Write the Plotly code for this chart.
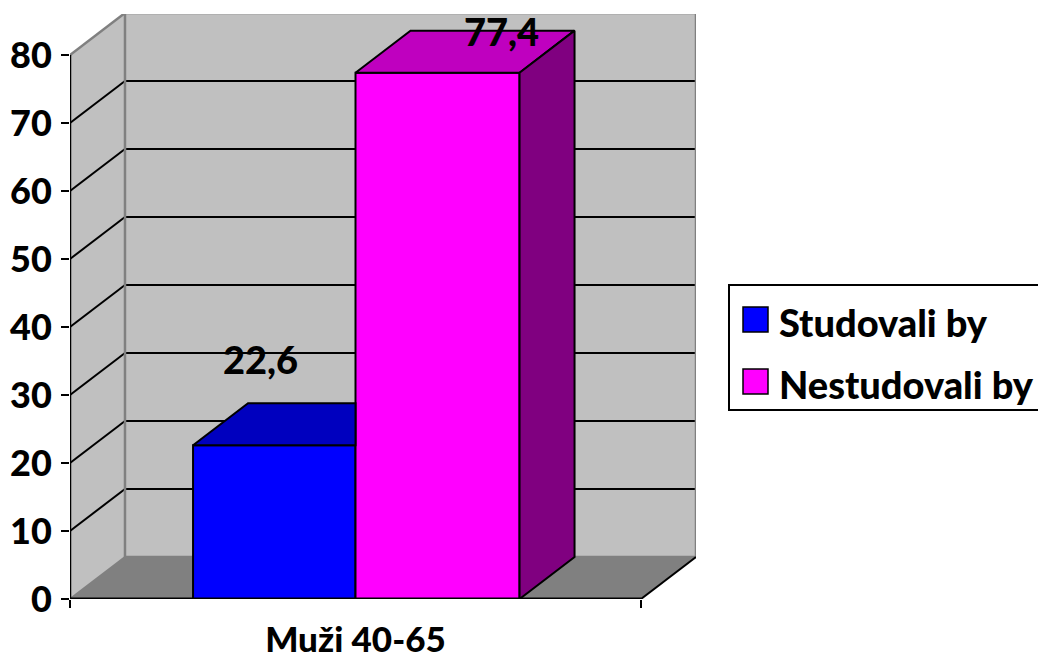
import plotly.graph_objects as go

# Survey shares, in percent
category = "Muži 40-65"
series_names = ["Studovali by", "Nestudovali by"]
series_values = [22.6, 77.4]
value_labels = ["22,6", "77,4"]
y_ticks = [0, 10, 20, 30, 40, 50, 60, 70, 80]

# Bar extents along the category axis, which runs from 0 to 1
bar_edges = [(0.2155, 0.5), (0.5, 0.7873)]
front_colors = ["#0000FF", "#FF00FF"]
top_colors = ["#0000BF", "#BF00BF"]
side_colors = ["#000080", "#800080"]
label_x = [0.334, 0.755]
label_lift = [12.65, 6.15]

# Oblique projection of the depth axis, in axis units
DX = 0.0963
DY = 6.18
X_MAX = 626 / 571
Y_MAX = 585 / 6.8
FONT = "Lato"
HEAVY = 900

# Plot area in page pixels
LEFT, RIGHT, TOP, BOTTOM = 70, 696, 14, 599


def paper_x(px):
    return (px - LEFT) / (RIGHT - LEFT)


def paper_y(py):
    return (BOTTOM - py) / (BOTTOM - TOP)


def poly_shape(xs, ys, fill, line="rgba(0,0,0,0)", width=0, layer="below"):
    path = "M" + " L".join(f"{x},{y}" for x, y in zip(xs, ys)) + " Z"
    return dict(type="path", path=path, xref="x", yref="y", fillcolor=fill,
                line=dict(color=line, width=width), layer=layer)


def seg(x0, y0, x1, y1, color, width, layer="below"):
    return dict(type="line", xref="x", yref="y", x0=x0, y0=y0, x1=x1, y1=y1,
                line=dict(color=color, width=width), layer=layer)


def paper_rect(x0, y0, x1, y1, fill, width):
    return dict(type="rect", xref="paper", yref="paper",
                x0=paper_x(x0), x1=paper_x(x1), y0=paper_y(y1), y1=paper_y(y0),
                fillcolor=fill, line=dict(color="#000000", width=width), layer="above")


shapes = [
    # side wall, back wall, floor
    poly_shape([0, DX, DX, 0], [0, DY, 80 + DY, 80], "#C0C0C0"),
    poly_shape([DX, 1 + DX, 1 + DX, DX], [DY, DY, 80 + DY, 80 + DY], "#C0C0C0"),
    poly_shape([0, 1, 1 + DX, DX], [0, 0, DY, DY], "#808080"),
]
for t in y_ticks[1:-1]:
    shapes.append(seg(0, t, DX, t + DY, "#000000", 2))
    shapes.append(seg(DX, t + DY, 1 + DX, t + DY, "#000000", 2))
shapes += [
    seg(DX, DY, DX, 80 + DY, "#808080", 2.5),
    seg(DX, 80 + DY, 1 + DX, 80 + DY, "#808080", 2.5),
    seg(1 + DX, DY, 1 + DX, 80 + DY, "#808080", 2.5),
    seg(DX, DY, 1 + DX, DY, "#808080", 2.5),
    seg(0, 80, DX, 80 + DY, "#808080", 2.5),
    seg(0, 0, DX, DY, "#808080", 2),
    seg(1, 0, 1 + DX, DY, "#000000", 2),
    seg(0, 0, 0, 80, "#000000", 2.5),
]

fig = go.Figure()

# Front faces
for name, value, (x0, x1), color in zip(series_names, series_values, bar_edges, front_colors):
    fig.add_trace(go.Bar(
        x=[(x0 + x1) / 2], y=[value], width=[x1 - x0], name=name,
        marker=dict(color=color, line=dict(color="#000000", width=2)),
    ))

# Top and side faces; the taller bar hides whatever lies behind it
tall_left = bar_edges[1][0]
for i, (value, (x0, x1)) in enumerate(zip(series_values, bar_edges)):
    limit = tall_left if i == 0 else 99
    top_x = [x0, min(x1, limit), min(x1 + DX, limit), min(x0 + DX, limit), x0]
    top_y = [value, value, value + DY, value + DY, value]
    fig.add_trace(go.Scatter(
        x=top_x, y=top_y, mode="lines", fill="toself", fillcolor=top_colors[i],
        line=dict(color="#000000", width=2), showlegend=False, hoverinfo="skip",
    ))
    if i == 1:
        fig.add_trace(go.Scatter(
            x=[x1, x1 + DX, x1 + DX, x1, x1],
            y=[value, value + DY, DY, 0, value],
            mode="lines", fill="toself", fillcolor=side_colors[i],
            line=dict(color="#000000", width=2), showlegend=False, hoverinfo="skip",
        ))

# Front edge of the floor, drawn over the bar bases
shapes.append(seg(0, 0, 1, 0, "#000000", 3, layer="above"))

annotations = [
    dict(x=x, y=v + lift, xref="x", yref="y", text=txt, showarrow=False,
         font=dict(family=FONT, size=38, weight=HEAVY, color="#000000"))
    for x, v, lift, txt in zip(label_x, series_values, label_lift, value_labels)
]

# Key box with its colour swatches; the box runs off the right edge of the page
shapes.append(paper_rect(729, 285, 1060, 410, "#FFFFFF", 2))
key_rows = [319.5, 381.5]
for name, color, row in zip(series_names, front_colors, key_rows):
    shapes.append(paper_rect(743, row - 12.5, 768, row + 12.5, color, 1.5))
    annotations.append(dict(
        x=paper_x(777), y=paper_y(row + 2), xref="paper", yref="paper", xanchor="left",
        text=name, showarrow=False,
        font=dict(family=FONT, size=38, weight=HEAVY, color="#000000"),
    ))

fig.update_layout(
    width=1038, height=661, autosize=False,
    margin=dict(l=LEFT, r=1038 - RIGHT, t=TOP, b=661 - BOTTOM),
    paper_bgcolor="#FFFFFF", plot_bgcolor="rgba(0,0,0,0)",
    barmode="overlay", shapes=shapes, annotations=annotations, showlegend=False,
    font=dict(family=FONT, color="#000000"),
    xaxis=dict(
        range=[0, X_MAX], tickmode="array", tickvals=[0.5], ticktext=[category],
        ticks="", showline=False, showgrid=False, zeroline=False, ticklabelstandoff=17,
        automargin=False,
        tickfont=dict(family=FONT, size=35, weight=HEAVY),
        minor=dict(tickmode="array", tickvals=[0, 1], ticks="outside", ticklen=8,
                   tickwidth=2, tickcolor="#000000", showgrid=False),
    ),
    yaxis=dict(
        range=[0, Y_MAX], tickmode="array", tickvals=y_ticks,
        ticks="outside", ticklen=8, tickwidth=2, tickcolor="#000000",
        showline=False, showgrid=False, zeroline=False, ticklabelstandoff=2,
        automargin=False,
        tickfont=dict(family=FONT, size=36, weight=HEAVY),
    ),
)

fig.write_html("out.html", config=dict(displayModeBar=False))
